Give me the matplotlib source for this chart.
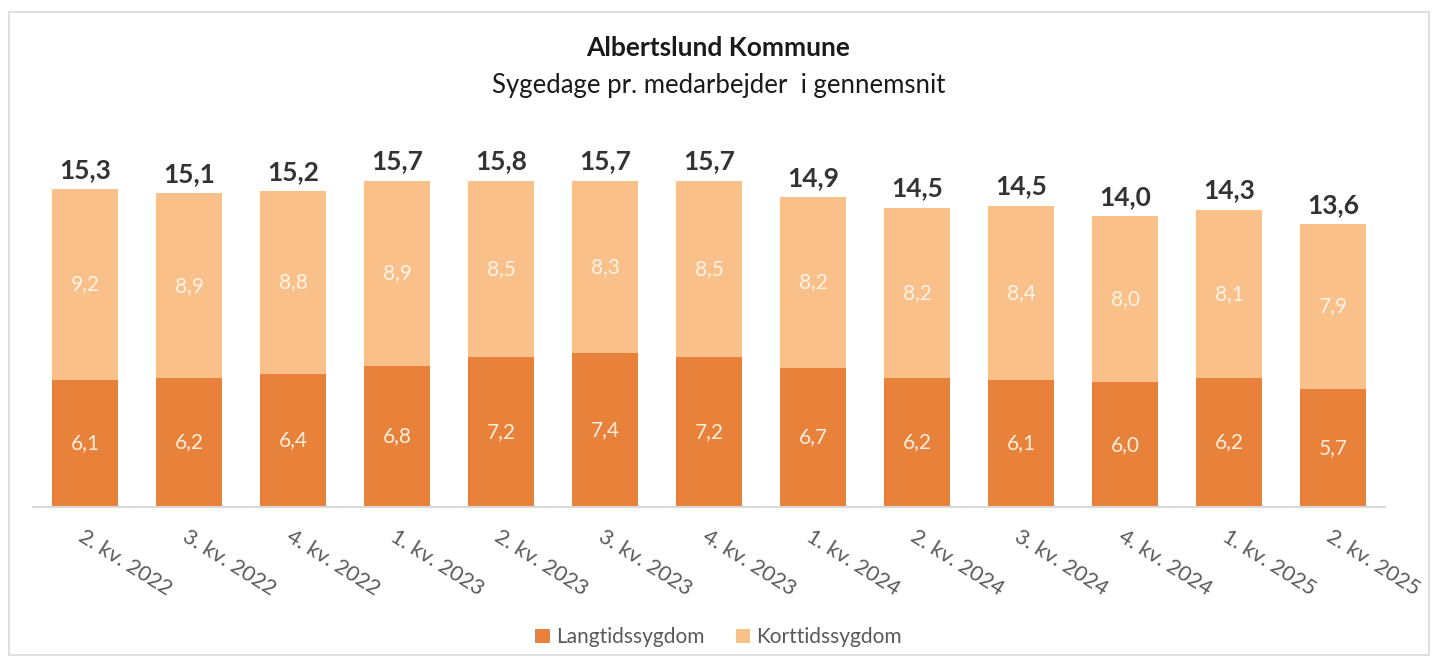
import numpy as np
import matplotlib.pyplot as plt
from matplotlib.patches import Rectangle

plt.rcParams['font.family'] = ['Lato', 'DejaVu Sans']

kvartaler = ['2. kv. 2022', '3. kv. 2022', '4. kv. 2022', '1. kv. 2023', '2. kv. 2023',
             '3. kv. 2023', '4. kv. 2023', '1. kv. 2024', '2. kv. 2024', '3. kv. 2024',
             '4. kv. 2024', '1. kv. 2025', '2. kv. 2025']
langtid = [6.1, 6.2, 6.4, 6.8, 7.2, 7.4, 7.2, 6.7, 6.2, 6.1, 6.0, 6.2, 5.7]
korttid = [9.2, 8.9, 8.8, 8.9, 8.5, 8.3, 8.5, 8.2, 8.2, 8.4, 8.0, 8.1, 7.9]
total = [15.3, 15.1, 15.2, 15.7, 15.8, 15.7, 15.7, 14.9, 14.5, 14.5, 14.0, 14.3, 13.6]

dark = '#E8823A'
light = '#F9C08A'

fig = plt.figure(figsize=(14.37, 6.61), dpi=100)
fig.patches.append(Rectangle((9/1437, 6/661), 1420/1437, 643/661, transform=fig.transFigure,
                             fill=False, edgecolor='#d9d9d9', linewidth=1.2))
ax = fig.add_axes([33/1437, 0.233, 1352/1437, 0.566])

x = np.arange(len(kvartaler))
b1 = ax.bar(x, langtid, width=0.64, color=dark, label='Langtidssygdom')
b2 = ax.bar(x, korttid, width=0.64, bottom=langtid, color=light, label='Korttidssygdom')

for i in range(len(x)):
    ax.text(x[i], langtid[i] / 2, f'{langtid[i]:.1f}'.replace('.', ','), ha='center', va='center',
            color='#fbeee0', fontsize=15)
    ax.text(x[i], langtid[i] + korttid[i] / 2, f'{korttid[i]:.1f}'.replace('.', ','), ha='center',
            va='center', color='#fdf3e8', fontsize=15)
    ax.text(x[i], langtid[i] + korttid[i] + 0.35, f'{total[i]:.1f}'.replace('.', ','), ha='center',
            va='bottom', color='#333333', fontsize=19, fontweight='bold')

ax.set_xlim(-0.5, 12.5)
ax.set_ylim(0, 18)
ax.set_yticks([])
for s in ['top', 'right', 'left']:
    ax.spines[s].set_visible(False)
ax.spines['bottom'].set_color('#d9d9d9')
ax.spines['bottom'].set_linewidth(1.5)
ax.set_xticks(x)
ax.set_xticklabels(kvartaler, rotation=-32, ha='left', rotation_mode='anchor',
                   fontsize=15.5, color='#595959')
ax.tick_params(axis='x', length=0, pad=14)

fig.text(0.5, 0.928, 'Albertslund Kommune', ha='center', va='center', fontsize=19,
         fontweight='bold', color='#1a1a1a')
fig.text(0.5, 0.871, 'Sygedage pr. medarbejder  i gennemsnit', ha='center', va='center',
         fontsize=18.5, color='#1a1a1a')

fig.legend(handles=[b1, b2], loc='center', bbox_to_anchor=(0.5, 0.036), ncol=2, frameon=False,
           fontsize=15, handlelength=0.7, handleheight=0.7, columnspacing=1.5, handletextpad=0.3,
           labelcolor='#595959')

fig.savefig('out.png', dpi=100)
